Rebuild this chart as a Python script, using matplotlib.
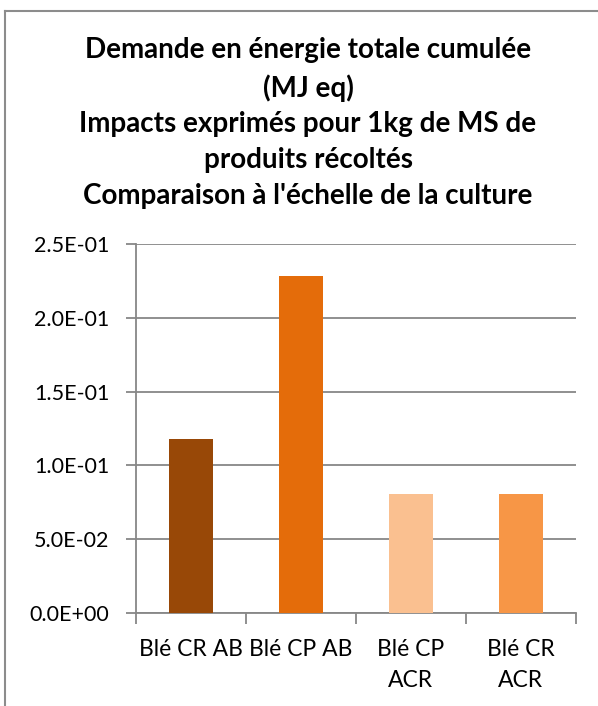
import matplotlib
matplotlib.use("Agg")
import matplotlib.pyplot as plt
from matplotlib.lines import Line2D

# Data
categories = ["Blé CR AB", "Blé CP AB", "Blé CP\nACR", "Blé CR\nACR"]
values = [0.118, 0.228, 0.0805, 0.0805]
colors = ["#984807", "#E46C0A", "#FAC090", "#F79646"]
yticks = [0.0, 0.05, 0.10, 0.15, 0.20, 0.25]
ytick_labels = ["0.0E+00", "5.0E-02", "1.0E-01", "1.5E-01", "2.0E-01", "2.5E-01"]
title_lines = [
    "Demande en énergie totale cumulée",
    "(MJ eq)",
    "Impacts exprimés pour 1kg de MS de",
    "produits récoltés",
    "Comparaison à l'échelle de la culture",
]

W, H = 598, 706
plt.rcParams['font.family'] = ['Lato', 'DejaVu Sans']
grid_col = "#878787"

fig = plt.figure(figsize=(W / 100, H / 100), dpi=100)

# outer chart frame (cropped at right and bottom)
fig.add_artist(Line2D([5 / W, 5 / W], [0, 1 - 11 / H], color="#8c8c8c", lw=1.5))
fig.add_artist(Line2D([5 / W, 1], [1 - 11 / H, 1 - 11 / H], color="#8c8c8c", lw=1.5))

ax = fig.add_axes([136 / W, (H - 613) / H, 440 / W, 369 / H])
x = list(range(len(categories)))
ax.bar(x, values, width=0.4, color=colors, zorder=3)

ax.set_xlim(-0.5, len(categories) - 0.5)
ax.set_ylim(0, 0.25)
ax.set_yticks(yticks)
ax.set_yticklabels(ytick_labels, fontsize=15.5)
ax.yaxis.grid(True, color=grid_col, lw=1.3, zorder=0)
ax.tick_params(axis="y", length=7, width=1.3, color=grid_col, pad=12)

ax.set_xticks([i - 0.5 for i in range(len(categories) + 1)])
ax.set_xticklabels([])
ax.set_xticks(x, minor=True)
ax.set_xticklabels(categories, minor=True, fontsize=16.5, linespacing=1.55, va="top")
ax.tick_params(axis="x", which="major", length=8, width=1.3, color=grid_col)
ax.tick_params(axis="x", which="minor", length=0, pad=19)

for side in ["top", "right"]:
    ax.spines[side].set_visible(False)
ax.spines["left"].set_color(grid_col)
ax.spines["bottom"].set_color(grid_col)
ax.spines["left"].set_linewidth(1.3)
ax.spines["bottom"].set_linewidth(1.3)

title_y = [50, 88, 124, 160, 196]
for line, yy in zip(title_lines, title_y):
    fig.text(308 / W, 1 - yy / H, line, ha="center", va="center",
             fontsize=20, fontweight="bold")

fig.savefig("out.png", dpi=100)
